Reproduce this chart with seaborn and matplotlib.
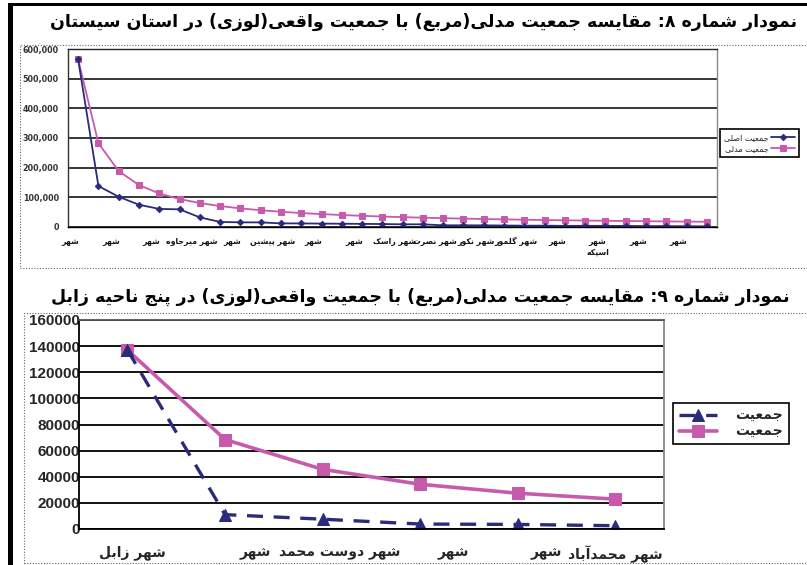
import matplotlib
matplotlib.use("Agg")
import matplotlib.pyplot as plt
import matplotlib.transforms as mtransforms
from matplotlib.patches import Rectangle
from matplotlib.ticker import FuncFormatter, FixedLocator
import pandas as pd
import seaborn as sns

# ---------------------------------------------------------------- data
# Sistan province: 32 cities ranked by population
sistan_actual = [565000, 138000, 102000, 75000, 61000, 59500, 32500, 17000,
                 15700, 15500, 12300, 12000, 11500, 11000, 10500, 10000,
                 9000, 9000, 5700, 5700, 5500, 5000, 4500, 4500,
                 3800, 4000, 3800, 3600, 3000, 3000, 2500, 2300]
sistan_model = [565000, 282500, 188333, 141250, 113000, 94167, 80714, 70625,
                62778, 56500, 51364, 47083, 43462, 40357, 37667, 35313,
                33235, 31389, 29737, 28250, 26905, 25682, 24565, 23542,
                22600, 21731, 20926, 20179, 19483, 18833, 18226, 17656]
# axis labels on every second city
sistan_labels = ["شهر", "شهر", "شهر", "شهر میرجاوه", "شهر", "شهر پیشین",
                 "شهر", "شهر", "شهر راسک", "شهر نصرت", "شهر نکور",
                 "شهر گلمور", "شهر", "شهر\nاسپکه", "شهر", "شهر"]
sistan_legend = ["جمعیت اصلی", "جمعیت مدلی"]
sistan_title = "نمودار شماره ۸: مقایسه جمعیت مدلی(مربع) با جمعیت واقعی(لوزی) در استان سیستان"

# Zabol district: 6 cities
zabol_labels = ["شهر زابل", "شهر", "شهر دوست محمد", "شهر", "شهر", "شهر محمدآباد"]
zabol_actual = [137000, 11000, 7500, 3800, 3500, 2500]
zabol_model = [137000, 68500, 45667, 34250, 27400, 22833]
zabol_legend = ["جمعیت", "جمعیت"]
zabol_title = "نمودار شماره ۹: مقایسه جمعیت مدلی(مربع) با جمعیت واقعی(لوزی) در پنج ناحیه زابل"

# ------------------------------------------------- Persian text shaping
# (isolated, final, initial, medial); right-joining letters have no initial/medial
FORMS = {
    "ا": ("\uFE8D", "\uFE8E", None, None), "آ": ("\uFE81", "\uFE82", None, None),
    "ب": ("\uFE8F", "\uFE90", "\uFE91", "\uFE92"), "پ": ("\uFB56", "\uFB57", "\uFB58", "\uFB59"),
    "ت": ("\uFE95", "\uFE96", "\uFE97", "\uFE98"), "ث": ("\uFE99", "\uFE9A", "\uFE9B", "\uFE9C"),
    "ج": ("\uFE9D", "\uFE9E", "\uFE9F", "\uFEA0"), "چ": ("\uFB7A", "\uFB7B", "\uFB7C", "\uFB7D"),
    "ح": ("\uFEA1", "\uFEA2", "\uFEA3", "\uFEA4"), "خ": ("\uFEA5", "\uFEA6", "\uFEA7", "\uFEA8"),
    "د": ("\uFEA9", "\uFEAA", None, None), "ذ": ("\uFEAB", "\uFEAC", None, None),
    "ر": ("\uFEAD", "\uFEAE", None, None), "ز": ("\uFEAF", "\uFEB0", None, None),
    "ژ": ("\uFB8A", "\uFB8B", None, None),
    "س": ("\uFEB1", "\uFEB2", "\uFEB3", "\uFEB4"), "ش": ("\uFEB5", "\uFEB6", "\uFEB7", "\uFEB8"),
    "ص": ("\uFEB9", "\uFEBA", "\uFEBB", "\uFEBC"), "ض": ("\uFEBD", "\uFEBE", "\uFEBF", "\uFEC0"),
    "ط": ("\uFEC1", "\uFEC2", "\uFEC3", "\uFEC4"), "ظ": ("\uFEC5", "\uFEC6", "\uFEC7", "\uFEC8"),
    "ع": ("\uFEC9", "\uFECA", "\uFECB", "\uFECC"), "غ": ("\uFECD", "\uFECE", "\uFECF", "\uFED0"),
    "ف": ("\uFED1", "\uFED2", "\uFED3", "\uFED4"), "ق": ("\uFED5", "\uFED6", "\uFED7", "\uFED8"),
    "ک": ("\uFB8E", "\uFB8F", "\uFB90", "\uFB91"), "گ": ("\uFB92", "\uFB93", "\uFB94", "\uFB95"),
    "ل": ("\uFEDD", "\uFEDE", "\uFEDF", "\uFEE0"), "م": ("\uFEE1", "\uFEE2", "\uFEE3", "\uFEE4"),
    "ن": ("\uFEE5", "\uFEE6", "\uFEE7", "\uFEE8"), "ه": ("\uFEE9", "\uFEEA", "\uFEEB", "\uFEEC"),
    "و": ("\uFEED", "\uFEEE", None, None),
    "ی": ("\uFBFC", "\uFBFD", "\uFBFE", "\uFBFF"),
}


def _shape_line(s):
    out = []
    for i, ch in enumerate(s):
        forms = FORMS.get(ch)
        if forms is None:
            out.append(ch)
            continue
        prev = s[i - 1] if i > 0 else ""
        nxt = s[i + 1] if i + 1 < len(s) else ""
        jp = prev in FORMS and FORMS[prev][2] is not None
        jn = forms[2] is not None and nxt in FORMS
        out.append(forms[3] if (jp and jn) else forms[1] if jp else forms[2] if jn else forms[0])
    vis = "".join(reversed(out))
    return vis.translate(str.maketrans("()", ")("))


def fa(text):
    return "\n".join(_shape_line(line) for line in text.split("\n"))


# ---------------------------------------------------------------- style
sns.set_style("white")
plt.rcParams["font.family"] = ["DejaVu Sans"]

NAVY = "#2b2b7c"
PINK = "#c85aab"

W, H = 807, 565
fig = plt.figure(figsize=(W / 100, H / 100), dpi=100)
fig.patch.set_facecolor("white")


def px_axes(l, t, r, b):
    return fig.add_axes([l / W, 1 - b / H, (r - l) / W, (b - t) / H])


def px_rect(l, t, r, b, **kw):
    fig.patches.append(Rectangle((l / W, 1 - b / H), (r - l) / W, (b - t) / H,
                                 transform=fig.transFigure, figure=fig, **kw))


# page frame: heavy rule on the left and top, dotted boxes round each chart
px_rect(8, 3, 13, 565, facecolor="black", edgecolor="none")
px_rect(8, 3, 807, 6, facecolor="black", edgecolor="none")
px_rect(20, 45, 812, 268, facecolor="none", edgecolor="#666666", lw=0.8, ls=(0, (1, 1.5)))
px_rect(24, 313, 812, 563, facecolor="none", edgecolor="#666666", lw=0.8, ls=(0, (1, 1.5)))

fig.text(424 / W, 1 - 22 / H, fa(sistan_title), ha="center", va="center",
         fontsize=12.5, fontweight="bold", color="black")
fig.text(420 / W, 1 - 297 / H, fa(zabol_title), ha="center", va="center",
         fontsize=12.5, fontweight="bold", color="black")

# ------------------------------------------------------------ chart 8
ax1 = px_axes(68, 49, 717, 227)
n1 = len(sistan_actual)
df1 = pd.DataFrame({"rank": range(n1), "actual": sistan_actual, "model": sistan_model})
sns.lineplot(data=df1, x="rank", y="model", ax=ax1, color=PINK, lw=1.3,
             marker="s", markersize=4.2, markeredgecolor=PINK, markerfacecolor=PINK,
             label=fa(sistan_legend[1]), legend=False)
sns.lineplot(data=df1, x="rank", y="actual", ax=ax1, color=NAVY, lw=1.3,
             marker="D", markersize=3.2, markeredgecolor=NAVY, markerfacecolor=NAVY,
             label=fa(sistan_legend[0]), legend=False)
ax1.set_xlim(-0.5, n1 - 0.5)
ax1.set_ylim(0, 600000)
ax1.set_xlabel("")
ax1.set_ylabel("")
ax1.yaxis.set_major_locator(FixedLocator(range(0, 600001, 100000)))
ax1.yaxis.set_major_formatter(FuncFormatter(lambda v, p: f"{int(v):,}"))
ax1.yaxis.grid(True, color="black", lw=1.1)
ax1.set_axisbelow(True)
ax1.set_xticks(range(0, n1, 2))
ax1.set_xticklabels([fa(t) for t in sistan_labels])
ax1.set_xticks([i - 0.5 for i in range(n1 + 1)], minor=True)
ax1.tick_params(axis="x", which="major", length=0, pad=7, labelsize=5.6, colors="#111111")
for lab in ax1.get_xticklabels():
    lab.set_fontweight("bold")
    lab.set_verticalalignment("top")
    lab.set_transform(lab.get_transform() + mtransforms.ScaledTranslation(-8 / 100, 0, fig.dpi_scale_trans))
ax1.tick_params(axis="x", which="minor", length=3.5, width=0.9, color="black", direction="out")
ax1.tick_params(axis="y", length=3.5, width=0.9, color="black", direction="out",
                labelsize=5.8, pad=3, colors="#333333")
for lab in ax1.get_yticklabels():
    lab.set_fontweight("bold")
for side, col in (("left", "#333333"), ("bottom", "black"), ("top", "#222222"), ("right", "#888888")):
    ax1.spines[side].set_visible(True)
    ax1.spines[side].set_color(col)
    ax1.spines[side].set_linewidth(1.0)
h1, l1 = ax1.get_legend_handles_labels()
leg1 = fig.legend(h1[::-1], l1[::-1], loc="upper left",
                  bbox_to_anchor=(720 / W, 1 - 129 / H), markerfirst=False,
                  frameon=True, fancybox=False, edgecolor="black", framealpha=1,
                  fontsize=5.8, handlelength=3.0, handletextpad=0.3,
                  borderpad=0.5, labelspacing=0.2, borderaxespad=0)
leg1.get_frame().set_linewidth(1.2)

# ------------------------------------------------------------ chart 9
ax2 = px_axes(78.7, 320, 664, 529)
n2 = len(zabol_actual)
df2 = pd.DataFrame({"rank": range(n2), "actual": zabol_actual, "model": zabol_model})
sns.lineplot(data=df2, x="rank", y="model", ax=ax2, color=PINK, lw=2.6,
             marker="s", markersize=8.5, markeredgecolor=PINK, markerfacecolor=PINK,
             label=fa(zabol_legend[1]), legend=False)
sns.lineplot(data=df2, x="rank", y="actual", ax=ax2, color=NAVY, lw=2.4,
             dashes=(4.8, 3.2), marker="^", markersize=9, markeredgecolor=NAVY,
             markerfacecolor=NAVY, label=fa(zabol_legend[0]), legend=False)
ax2.set_xlim(-0.5, n2 - 0.5)
ax2.set_ylim(0, 160000)
ax2.set_xlabel("")
ax2.set_ylabel("")
ax2.yaxis.set_major_locator(FixedLocator(range(0, 160001, 20000)))
ax2.yaxis.set_major_formatter(FuncFormatter(lambda v, p: f"{int(v)}"))
ax2.yaxis.grid(True, color="black", lw=1.3)
ax2.set_axisbelow(True)
ax2.set_xticks(range(n2))
ax2.set_xticklabels([fa(t) for t in zabol_labels])
ax2.set_xticks([i - 0.5 for i in range(n2 + 1)], minor=True)
ax2.tick_params(axis="x", which="major", length=0, pad=12, labelsize=10)
label_shift = [5, 30, 17, 33, 29, 0]
for lab, dx in zip(ax2.get_xticklabels(), label_shift):
    lab.set_fontweight("bold")
    lab.set_transform(lab.get_transform() + mtransforms.ScaledTranslation(dx / 100, 0, fig.dpi_scale_trans))
ax2.tick_params(axis="x", which="minor", length=5, width=1.3, color="black", direction="out")
ax2.tick_params(axis="y", length=4, width=1.3, color="black", direction="out",
                labelsize=11, pad=-5)
for lab in ax2.get_yticklabels():
    lab.set_fontweight("bold")
    lab.set_fontfamily("Liberation Sans")
for side, col in (("left", "black"), ("bottom", "black"), ("top", "#555555"), ("right", "#888888")):
    ax2.spines[side].set_visible(True)
    ax2.spines[side].set_color(col)
    ax2.spines[side].set_linewidth(1.3)
h2, l2 = ax2.get_legend_handles_labels()
leg2 = fig.legend(h2[::-1], l2[::-1], loc="upper left",
                  bbox_to_anchor=(673 / W, 1 - 403 / H), markerfirst=True,
                  frameon=True, fancybox=False, edgecolor="black", framealpha=1,
                  prop={"size": 10, "weight": "bold"}, handlelength=2.8,
                  handletextpad=1.3, borderpad=0.4, labelspacing=0.15, borderaxespad=0)
leg2.get_frame().set_linewidth(1.2)

fig.savefig("out.png", dpi=100, facecolor="white")
